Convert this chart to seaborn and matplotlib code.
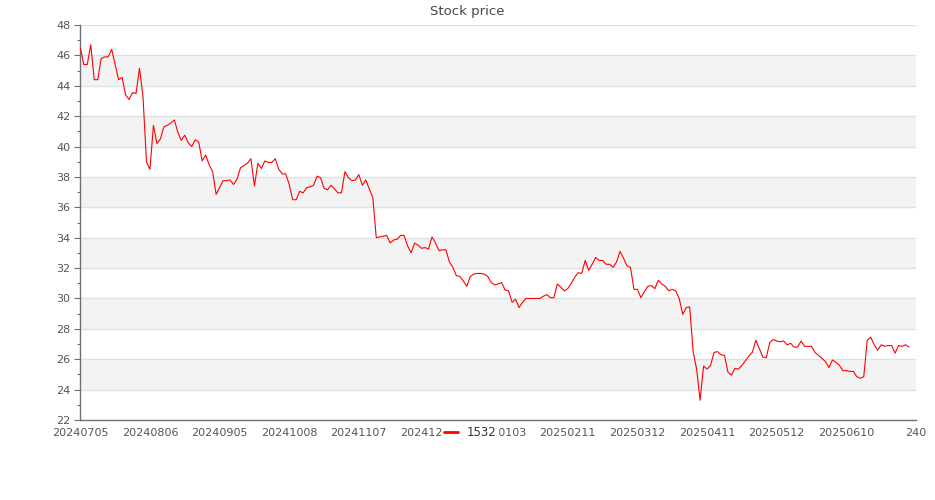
import numpy as np
import pandas as pd
import seaborn as sns
import matplotlib.pyplot as plt

# closing price of 1532, one value per trading day
price = [
    46.5, 45.4, 45.4, 46.7, 44.4, 44.4, 45.8, 45.9, 45.9, 46.4,
    45.4, 44.4, 44.55, 43.4, 43.1, 43.55, 43.5, 45.15, 43.3, 39.0,
    38.5, 41.4, 40.2, 40.5, 41.3, 41.4, 41.55, 41.75, 40.95, 40.4,
    40.75, 40.25, 40.0, 40.45, 40.3, 39.05, 39.45, 38.8, 38.35, 36.85,
    37.3, 37.75, 37.75, 37.8, 37.5, 37.85, 38.6, 38.75, 38.9, 39.2,
    37.4, 38.9, 38.55, 39.05, 38.95, 38.95, 39.2, 38.5, 38.2, 38.2,
    37.5, 36.5, 36.5, 37.05, 36.95, 37.3, 37.35, 37.45, 38.05, 37.95,
    37.25, 37.15, 37.45, 37.2, 36.95, 36.95, 38.35, 37.95, 37.75, 37.8,
    38.15, 37.45, 37.8, 37.2, 36.65, 34.0, 34.05, 34.1, 34.15, 33.65,
    33.85, 33.9, 34.15, 34.15, 33.45, 33.0, 33.65, 33.5, 33.3, 33.35,
    33.25, 34.05, 33.65, 33.15, 33.2, 33.2, 32.4, 32.05, 31.5, 31.45,
    31.15, 30.8, 31.45, 31.6, 31.65, 31.65, 31.6, 31.45, 31.05, 30.9,
    30.95, 31.05, 30.55, 30.5, 29.75, 29.95, 29.4, 29.75, 30.0, 30.0,
    30.0, 30.0, 30.0, 30.15, 30.25, 30.05, 30.05, 30.95, 30.75, 30.5,
    30.65, 31.0, 31.4, 31.7, 31.65, 32.5, 31.85, 32.25, 32.7, 32.5,
    32.5, 32.25, 32.25, 32.05, 32.4, 33.1, 32.65, 32.15, 32.05, 30.6,
    30.6, 30.05, 30.45, 30.8, 30.85, 30.65, 31.2, 30.95, 30.8, 30.5,
    30.6, 30.5, 30.0, 28.95, 29.4, 29.45, 26.5, 25.35, 23.3, 25.55,
    25.35, 25.6, 26.45, 26.5, 26.3, 26.25, 25.15, 24.95, 25.4, 25.35,
    25.6, 25.9, 26.2, 26.45, 27.25, 26.7, 26.15, 26.1, 27.1, 27.3,
    27.2, 27.15, 27.2, 26.95, 27.05, 26.8, 26.8, 27.2, 26.85, 26.85,
    26.85, 26.45, 26.25, 26.05, 25.85, 25.45, 25.95, 25.8, 25.6, 25.25,
    25.25, 25.2, 25.2, 24.85, 24.75, 24.85, 27.25, 27.45, 26.95, 26.6,
    26.95, 26.85, 26.9, 26.9, 26.4, 26.9, 26.85, 26.95, 26.8,
]
tick_labels = ["20240705", "20240806", "20240905", "20241008", "20241107",
               "20241206", "20250103", "20250211", "20250312", "20250411",
               "20250512", "20250610", "240"]
n_categories = 241
label_every = 20
ticker = "1532"

df = pd.DataFrame({"day": np.arange(len(price)), "price": price})

sns.set_theme(style="white")
plt.rcParams['font.family'] = ['DejaVu Sans']

fig = plt.figure(figsize=(9.35, 5.0), dpi=100)
ax = fig.add_axes([80.3 / 935, 80 / 500, (916 - 80.3) / 935, 395 / 500])

axis_col = "#6e7079"
ymin, ymax = 22, 48

# alternating split areas + split lines
for k, lo in enumerate(range(ymin, ymax, 2)):
    if k % 2 == 1:
        ax.axhspan(lo, lo + 2, color="#f3f3f3", lw=0, zorder=0)
for v in range(ymin + 2, ymax + 1, 2):
    ax.axhline(v, color="#e0e0e0", lw=1, zorder=0.5)

sns.lineplot(data=df, x="day", y="price", color="#ff0000", lw=0.8,
             label=ticker, ax=ax, zorder=3)

ax.set_xlim(0, n_categories - 1)
ax.set_ylim(ymin, ymax)
ax.set_xticks(np.arange(0, n_categories, label_every))
ax.set_xticklabels(tick_labels)
ax.set_yticks(np.arange(ymin, ymax + 1, 2))
ax.set_yticks(np.arange(ymin + 1, ymax, 2), minor=True)
ax.set_xlabel("")
ax.set_ylabel("")

ax.tick_params(axis="x", length=0, pad=6, labelsize=8, labelcolor="#555555")
ax.tick_params(axis="y", which="major", length=4, width=0.8, color=axis_col,
               pad=3, labelsize=8, labelcolor="#555555", left=True)
ax.tick_params(axis="y", which="minor", length=2.5, width=0.8, color=axis_col,
               left=True)

for s in ["top", "right"]:
    ax.spines[s].set_visible(False)
for s in ["left", "bottom"]:
    ax.spines[s].set_color(axis_col)
    ax.spines[s].set_linewidth(1)

fig.text(0.5, 1 - 12 / 500, "Stock price", ha="center", va="center",
         fontsize=9.5, color="#464646")

ax.legend(loc="center", bbox_to_anchor=(470 / 935, 1 - 433 / 500),
          bbox_transform=fig.transFigure, frameon=True, fancybox=False,
          framealpha=1, edgecolor="white", facecolor="white",
          fontsize=8.5, handlelength=1.2, handletextpad=0.7,
          borderpad=0.15, borderaxespad=0)
for t in ax.get_legend().get_texts():
    t.set_color("#333333")
for h in ax.get_legend().get_lines():
    h.set_linewidth(2)

fig.savefig("out.png", dpi=100)
